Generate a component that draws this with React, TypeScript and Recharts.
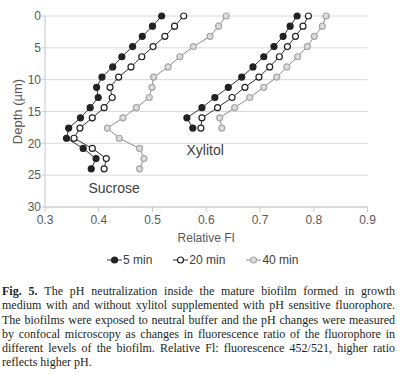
import React from 'react';
import {
  ScatterChart,
  Scatter,
  XAxis,
  YAxis,
  CartesianGrid,
  Legend,
  ReferenceDot,
} from 'recharts';

// Depth (µm) of each measured level
const depthsSucrose = [0, 1.6, 3.2, 4.8, 6.4, 8, 9.6, 11.2, 12.8, 14.4, 16, 17.6, 19.2, 20.8, 22.4, 24];
const depthsXylitol = [0, 1.6, 3.2, 4.8, 6.4, 8, 9.6, 11.2, 12.8, 14.4, 16, 17.6];

// Relative FI values
const sucrose5 = [0.517, 0.5, 0.481, 0.463, 0.443, 0.426, 0.406, 0.396, 0.399, 0.384, 0.366, 0.344, 0.34, 0.371, 0.395, 0.386];
const sucrose20 = [0.558, 0.541, 0.523, 0.501, 0.48, 0.46, 0.437, 0.421, 0.425, 0.41, 0.388, 0.365, 0.354, 0.388, 0.414, 0.41];
const sucrose40 = [0.637, 0.623, 0.607, 0.576, 0.551, 0.529, 0.502, 0.499, 0.494, 0.47, 0.445, 0.416, 0.438, 0.476, 0.484, 0.476];
const xylitol5 = [0.769, 0.756, 0.743, 0.726, 0.707, 0.687, 0.666, 0.641, 0.616, 0.592, 0.564, 0.575];
const xylitol20 = [0.79, 0.78, 0.766, 0.751, 0.736, 0.718, 0.698, 0.672, 0.648, 0.621, 0.592, 0.59];
const xylitol40 = [0.823, 0.816, 0.801, 0.788, 0.77, 0.75, 0.731, 0.707, 0.681, 0.653, 0.625, 0.629];

const xTicks = [0.3, 0.4, 0.5, 0.6, 0.7, 0.8, 0.9];
const yTicks = [0, 5, 10, 15, 20, 25, 30];
const legendLabels = ['5 min', '20 min', '40 min'];

const captionLines = [
  'The pH neutralization inside the mature biofilm formed in growth',
  'medium with and without xylitol supplemented with pH sensitive fluorophore.',
  'The biofilms were exposed to neutral buffer and the pH changes were measured',
  'by confocal microscopy as changes in fluorescence ratio of the fluorophore in',
  'different levels of the biofilm. Relative Fl: fluorescence 452/521, higher ratio',
  'reflects higher pH.',
];

const styles = [
  { line: '#333333', fill: '#222222', stroke: '#222222' },
  { line: '#333333', fill: '#ffffff', stroke: '#222222' },
  { line: '#8a8a8a', fill: '#dddddd', stroke: '#a6a6a6' },
];

const toPoints = (xs: number[], ds: number[]) => xs.map((x, i) => ({ x, y: ds[i] }));

const series = [
  { name: 'Sucrose 5 min', data: toPoints(sucrose5, depthsSucrose), s: 0 },
  { name: 'Sucrose 20 min', data: toPoints(sucrose20, depthsSucrose), s: 1 },
  { name: 'Sucrose 40 min', data: toPoints(sucrose40, depthsSucrose), s: 2 },
  { name: 'Xylitol 5 min', data: toPoints(xylitol5, depthsXylitol), s: 0 },
  { name: 'Xylitol 20 min', data: toPoints(xylitol20, depthsXylitol), s: 1 },
  { name: 'Xylitol 40 min', data: toPoints(xylitol40, depthsXylitol), s: 2 },
];

const makeShape = (st: { fill: string; stroke: string }) => (p: any) => (
  <circle cx={p.cx} cy={p.cy} r={3} fill={st.fill} stroke={st.stroke} strokeWidth={1.2} />
);

const LegendContent = () => (
  <div
    style={{
      height: 26,
      display: 'flex',
      alignItems: 'center',
      paddingLeft: 99,
      gap: 21,
      fontSize: 12,
      color: '#404040',
      boxSizing: 'border-box',
    }}
  >
    {legendLabels.map((lab, i) => (
      <div key={lab} style={{ display: 'flex', alignItems: 'center' }}>
        <svg width={15} height={10}>
          <line x1={0} y1={5} x2={15} y2={5} stroke={styles[i].line} strokeWidth={1} />
          <circle cx={7.5} cy={5} r={3} fill={styles[i].fill} stroke={styles[i].stroke} strokeWidth={1.2} />
        </svg>
        <span style={{ marginLeft: 1 }}>{lab}</span>
      </div>
    ))}
  </div>
);

export default function App() {
  return (
    <div style={{ width: 400, height: 375, overflow: 'hidden', position: 'relative' }}>
      <style>{'body{margin:0;overflow:hidden}'}</style>
      <div style={{ fontFamily: '"Liberation Sans", Arial, sans-serif', height: 265, paddingLeft: 8, paddingTop: 8 }}>
        <ScatterChart width={384} height={265} margin={{ top: 8, right: 24.5, bottom: 0, left: 0 }}>
          <CartesianGrid vertical={false} stroke="#d9d9d9" />
          <XAxis
            type="number"
            dataKey="x"
            domain={[0.3, 0.9]}
            ticks={xTicks}
            tickFormatter={(v: number) => v.toFixed(1)}
            height={40}
            tickSize={5}
            tickMargin={3}
            axisLine={{ stroke: '#c8c8c8' }}
            tickLine={{ stroke: '#c8c8c8' }}
            tick={{ fill: '#595959', fontSize: 12 }}
            label={{ value: 'Relative FI', position: 'insideBottom', offset: 5, fill: '#595959', fontSize: 12 }}
          />
          <YAxis
            type="number"
            dataKey="y"
            domain={[0, 30]}
            ticks={yTicks}
            reversed
            width={37}
            tickSize={3}
            tickMargin={1}
            axisLine={{ stroke: '#c8c8c8' }}
            tickLine={{ stroke: '#c8c8c8' }}
            tick={{ fill: '#595959', fontSize: 12 }}
            label={{
              value: 'Depth (µm)',
              angle: -90,
              position: 'insideLeft',
              offset: 9,
              fill: '#595959',
              fontSize: 13,
              style: { textAnchor: 'middle' },
            }}
          />
          {series.map((sr) => (
            <Scatter
              key={sr.name}
              name={sr.name}
              data={sr.data}
              line={{ stroke: styles[sr.s].line, strokeWidth: 1 }}
              lineType="joint"
              shape={makeShape(styles[sr.s])}
              isAnimationActive={false}
            />
          ))}
          <ReferenceDot
            x={0.4285}
            y={27}
            r={0}
            fill="none"
            stroke="none"
            label={{ value: 'Sucrose', position: 'center', fill: '#404040', fontSize: 14 }}
          />
          <ReferenceDot
            x={0.598}
            y={21}
            r={0}
            fill="none"
            stroke="none"
            label={{ value: 'Xylitol', position: 'center', fill: '#404040', fontSize: 14 }}
          />
          <Legend
            verticalAlign="bottom"
            wrapperStyle={{ left: 0, width: 384 }}
            content={() => <LegendContent />}
          />
        </ScatterChart>
      </div>
      <div
        style={{
          position: 'absolute',
          left: 2,
          top: 284,
          width: 393,
          fontFamily: '"Liberation Serif", "Times New Roman", serif',
          fontSize: 12,
          lineHeight: '14.3px',
          color: '#231f20',
        }}
      >
        {captionLines.map((ln, i) => (
          <div
            key={i}
            style={{
              textAlign: 'justify',
              textAlignLast: i < captionLines.length - 1 ? 'justify' : 'left',
            }}
          >
            {i === 0 ? <b>Fig. 5. </b> : null}
            {ln}
          </div>
        ))}
      </div>
    </div>
  );
}
